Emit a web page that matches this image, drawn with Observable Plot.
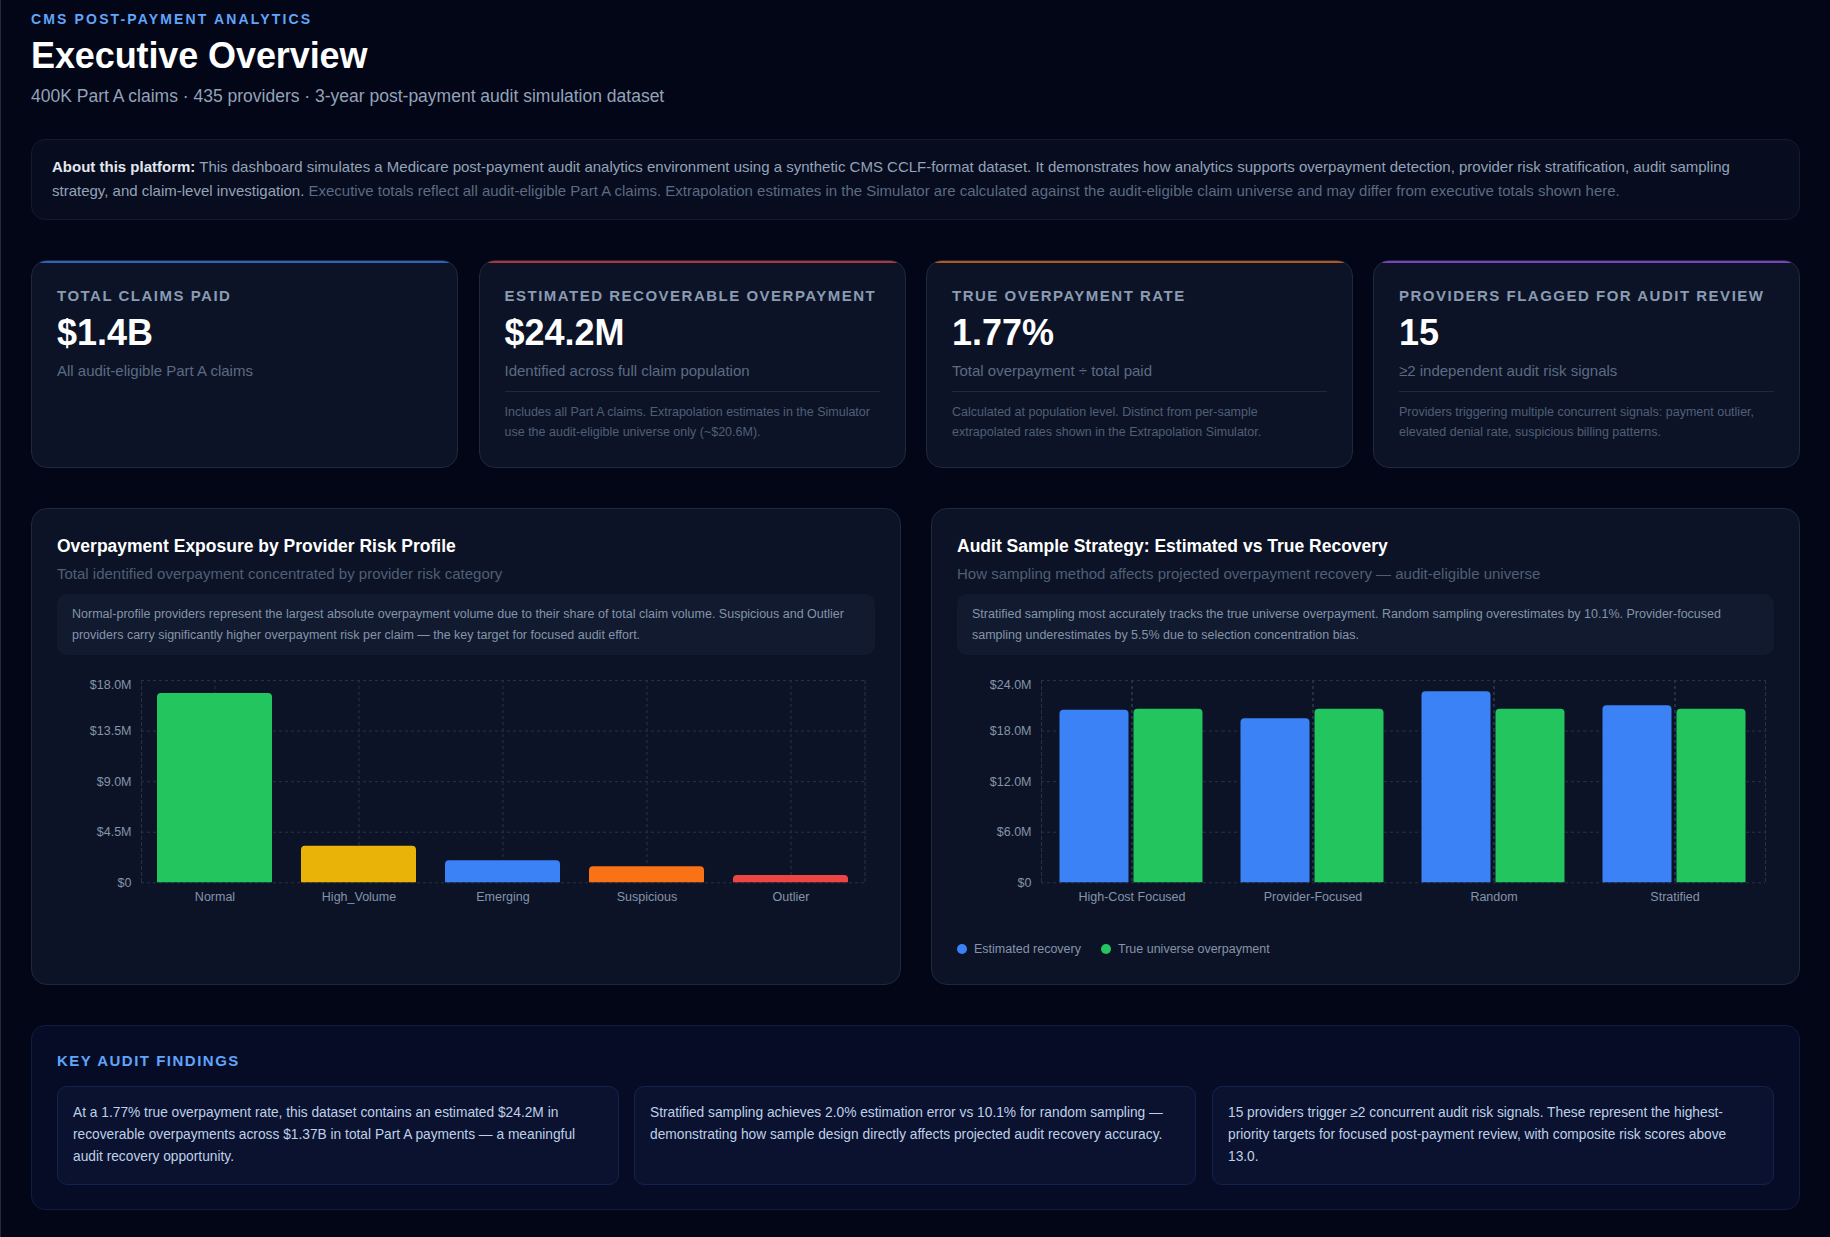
<!DOCTYPE html>
<html lang="en">
<head>
<meta charset="utf-8">
<title>Executive Overview</title>
<script src="https://cdn.jsdelivr.net/npm/d3@7"></script>
<script src="https://cdn.jsdelivr.net/npm/@observablehq/plot@0.6"></script>
<style>
*{box-sizing:border-box}
html,body{margin:0;padding:0;background:#020617}
body{width:1830px;height:1237px;position:relative;overflow:hidden;font-family:"Liberation Sans",Arial,sans-serif;border-left:1px solid #2b2733}
.abs{position:absolute}
.kicker{left:30px;top:11px;font-size:14px;line-height:16px;font-weight:700;letter-spacing:2.15px;color:#60a5fa;white-space:nowrap}
h1{margin:0;left:30px;top:33px;font-size:36px;line-height:46px;font-weight:700;color:#fff;letter-spacing:-.1px;white-space:nowrap}
.sub{left:30px;top:85px;font-size:17.5px;line-height:22px;color:#94a3b8;white-space:nowrap}
.about{left:30px;top:139px;width:1769px;height:81px;border:1px solid #131c2e;border-radius:14px;background:#070c1e;padding:15px 20px;font-size:15px;line-height:24px;color:#94a3b8;white-space:nowrap}
.about b{color:#e2e8f0}.about span{color:#5b6b82}
.kpi{top:260px;height:208px;width:427px;background:#0c1326;border:1px solid #1e293b;border-radius:16px;overflow:hidden;padding:0 25px}
.kpi:before{content:"";position:absolute;left:0;right:0;top:0;height:2px;background:var(--c);opacity:.72}
.kl{position:absolute;top:26px;left:25px;font-size:15px;line-height:18px;font-weight:700;letter-spacing:1.5px;color:#8a9bb2;white-space:nowrap}
.kv{position:absolute;top:50px;left:25px;font-size:36px;line-height:44px;font-weight:700;color:#fff}
.ks{position:absolute;top:100px;left:25px;font-size:15px;line-height:20px;color:#5b6b82;white-space:nowrap}
.kd{position:absolute;top:130px;left:25px;right:25px;height:1px;background:#1e293b}
.kn{position:absolute;top:140.5px;left:25px;font-size:12.5px;line-height:20px;color:#4f5f76;white-space:nowrap}
.card{top:508px;height:477px;background:#0c1326;border:1px solid #1e293b;border-radius:16px}
.ct{position:absolute;left:25px;top:26px;font-size:17.5px;line-height:22px;font-weight:700;color:#fff;white-space:nowrap}
.cs{position:absolute;left:25px;top:55px;font-size:15px;line-height:20px;color:#4f5f76;white-space:nowrap}
.ci{position:absolute;left:25px;right:25px;top:85px;height:61px;border-radius:10px;background:#111a2e;padding:9.5px 15px;font-size:12.5px;line-height:21px;color:#8494ab;white-space:nowrap}
.plot{position:absolute;left:25px;top:155px}
.plot svg{display:block;background:transparent}
.legend{position:absolute;left:25px;top:431px;height:18px;font-size:12.5px;line-height:18px;color:#8494ab;white-space:nowrap}
.legend i{position:absolute;top:4px;width:10px;height:10px;border-radius:50%}
.legend span{position:absolute;top:0}
.find{left:30px;top:1025px;width:1769px;height:185px;background:#060c26;border:1px solid #101c44;border-radius:14px}
.ft{position:absolute;left:25px;top:26px;font-size:15px;line-height:18px;font-weight:700;letter-spacing:1.5px;color:#60a5fa}
.fc{position:absolute;top:60px;height:99px;width:562px;background:#0a1230;border:1px solid #14234d;border-radius:10px;padding:15px 15px;font-size:13.75px;line-height:22px;color:#bfd0e6}
</style>
</head>
<body>
<div class="abs kicker">CMS POST-PAYMENT ANALYTICS</div>
<h1 class="abs">Executive Overview</h1>
<div class="abs sub">400K Part A claims · 435 providers · 3-year post-payment audit simulation dataset</div>
<div class="abs about"><b>About this platform:</b> This dashboard simulates a Medicare post-payment audit analytics environment using a synthetic CMS CCLF-format dataset. It demonstrates how analytics supports overpayment detection, provider risk stratification, audit sampling<br>strategy, and claim-level investigation. <span>Executive totals reflect all audit-eligible Part A claims. Extrapolation estimates in the Simulator are calculated against the audit-eligible claim universe and may differ from executive totals shown here.</span></div>

<div class="abs kpi" style="left:30px;--c:#3b82f6"><div class="kl">TOTAL CLAIMS PAID</div><div class="kv">$1.4B</div><div class="ks">All audit-eligible Part A claims</div></div>
<div class="abs kpi" style="left:477.5px;--c:#ef4444"><div class="kl">ESTIMATED RECOVERABLE OVERPAYMENT</div><div class="kv">$24.2M</div><div class="ks">Identified across full claim population</div><div class="kd"></div><div class="kn">Includes all Part A claims. Extrapolation estimates in the Simulator<br>use the audit-eligible universe only (~$20.6M).</div></div>
<div class="abs kpi" style="left:925px;--c:#f97316"><div class="kl">TRUE OVERPAYMENT RATE</div><div class="kv">1.77%</div><div class="ks">Total overpayment ÷ total paid</div><div class="kd"></div><div class="kn">Calculated at population level. Distinct from per-sample<br>extrapolated rates shown in the Extrapolation Simulator.</div></div>
<div class="abs kpi" style="left:1372px;--c:#a855f7"><div class="kl">PROVIDERS FLAGGED FOR AUDIT REVIEW</div><div class="kv">15</div><div class="ks">≥2 independent audit risk signals</div><div class="kd"></div><div class="kn">Providers triggering multiple concurrent signals: payment outlier,<br>elevated denial rate, suspicious billing patterns.</div></div>

<div class="abs card" style="left:30px;width:870px"><div class="ct">Overpayment Exposure by Provider Risk Profile</div><div class="cs">Total identified overpayment concentrated by provider risk category</div><div class="ci">Normal-profile providers represent the largest absolute overpayment volume due to their share of total claim volume. Suspicious and Outlier<br>providers carry significantly higher overpayment risk per claim — the key target for focused audit effort.</div><div class="plot" id="p1"></div></div>

<div class="abs card" style="left:930px;width:869px"><div class="ct">Audit Sample Strategy: Estimated vs True Recovery</div><div class="cs">How sampling method affects projected overpayment recovery — audit-eligible universe</div><div class="ci">Stratified sampling most accurately tracks the true universe overpayment. Random sampling overestimates by 10.1%. Provider-focused<br>sampling underestimates by 5.5% due to selection concentration bias.</div><div class="plot" id="p2"></div>
<div class="legend"><i style="left:0;background:#3b82f6"></i><span style="left:17px">Estimated recovery</span><i style="left:144px;background:#22c55e"></i><span style="left:161px">True universe overpayment</span></div></div>

<div class="abs find"><div class="ft">KEY AUDIT FINDINGS</div>
<div class="fc" style="left:25px">At a 1.77% true overpayment rate, this dataset contains an estimated $24.2M in recoverable overpayments across $1.37B in total Part A payments — a meaningful audit recovery opportunity.</div>
<div class="fc" style="left:602px">Stratified sampling achieves 2.0% estimation error vs 10.1% for random sampling — demonstrating how sample design directly affects projected audit recovery accuracy.</div>
<div class="fc" style="left:1180px">15 providers trigger ≥2 concurrent audit risk signals. These represent the highest-priority targets for focused post-payment review, with composite risk scores above 13.0.</div>
</div>

<script>
// Chart 1
const profiles = ["Normal", "High_Volume", "Emerging", "Suspicious", "Outlier"];
const exposure = [16.84, 3.26, 1.96, 1.42, 0.65];
const profileColors = ["#22c55e", "#eab308", "#3b82f6", "#f97316", "#ef4444"];
const exposureTicks = [0, 4.5, 9, 13.5];
const exposureTop = 18;

// Chart 2
const methods = ["High-Cost Focused", "Provider-Focused", "Random", "Stratified"];
const estimated = [20.48, 19.47, 22.68, 21.01];
const trueRecovery = [20.58, 20.58, 20.58, 20.58];
const seriesNames = ["Estimated recovery", "True universe overpayment"];
const seriesColors = ["#3b82f6", "#22c55e"];
const recoveryTicks = [0, 6, 12, 18];
const recoveryTop = 24;

const fmt = d => d === 0 ? "$0" : `$${d.toFixed(1)}M`;
const gridC = "#273247", labelC = "#8494ab";
const base = {
  style: {background: "transparent", fontFamily: '"Liberation Sans",Arial,sans-serif', fontSize: "12.5px", color: labelC, overflow: "visible"},
  height: 260, marginTop: 16, marginBottom: 42
};
const dash = {stroke: gridC, strokeDasharray: "3 3", strokeOpacity: 1, strokeWidth: 1};
const yAxis = (ticks, top, extra = {}) => [
  Plot.gridY(ticks.concat(top), dash),
  Plot.axisY(ticks, {tickSize: 0, tickPadding: 10, tickFormat: fmt, label: null, fill: labelC, fontSize: 12.5}),
  Plot.text([top], {y: d => d, frameAnchor: "left", textAnchor: "end", dx: -10, dy: 4.5, text: fmt, fill: labelC, fontSize: 12.5, ...extra})
];

const d1 = profiles.map((p, i) => ({profile: p, value: exposure[i], color: profileColors[i]}));
document.getElementById("p1").append(Plot.plot({
  ...base, width: 817, marginLeft: 84, marginRight: 9.5,
  x: {domain: profiles, paddingInner: 0.2, paddingOuter: 0.1, align: 0.5, label: null},
  y: {domain: [0, exposureTop], range: [218.3, 16], label: null},
  color: {type: "identity"},
  marks: [
    ...yAxis(exposureTicks, exposureTop),
    Plot.gridX(profiles, dash),
    Plot.frame({...dash, anchor: "left"}),
    Plot.frame({...dash, anchor: "right"}),
    Plot.barY(d1, {x: "profile", y: "value", fill: "color", ry1: 4}),
    Plot.axisX({tickSize: 0, tickPadding: 10, label: null, fill: labelC, fontSize: 12.5})
  ]
}));

const d2 = methods.flatMap((m, i) => [
  {method: m, series: seriesNames[0], value: estimated[i]},
  {method: m, series: seriesNames[1], value: trueRecovery[i]}
]);
document.getElementById("p2").append(Plot.plot({
  ...base, width: 817, marginLeft: 83.5, marginRight: 9.5,
  fx: {domain: methods, padding: 0, label: null},
  x: {domain: seriesNames, paddingInner: 0.0625, paddingOuter: 0.245, axis: null, label: null},
  y: {domain: [0, recoveryTop], range: [218.3, 16], label: null},
  color: {domain: seriesNames, range: seriesColors},
  marks: [
    ...yAxis(recoveryTicks, recoveryTop, {fx: () => methods[0]}),
    Plot.gridFx(methods, dash),
    Plot.frame({...dash, anchor: "left", facet: "super"}),
    Plot.frame({...dash, anchor: "right", facet: "super"}),
    Plot.barY(d2, {fx: "method", x: "series", y: "value", fill: "series", ry1: 4}),
    Plot.axisFx({tickSize: 0, tickPadding: 10, label: null, anchor: "bottom", fill: labelC, fontSize: 12.5})
  ]
}));
</script>
</body>
</html>
